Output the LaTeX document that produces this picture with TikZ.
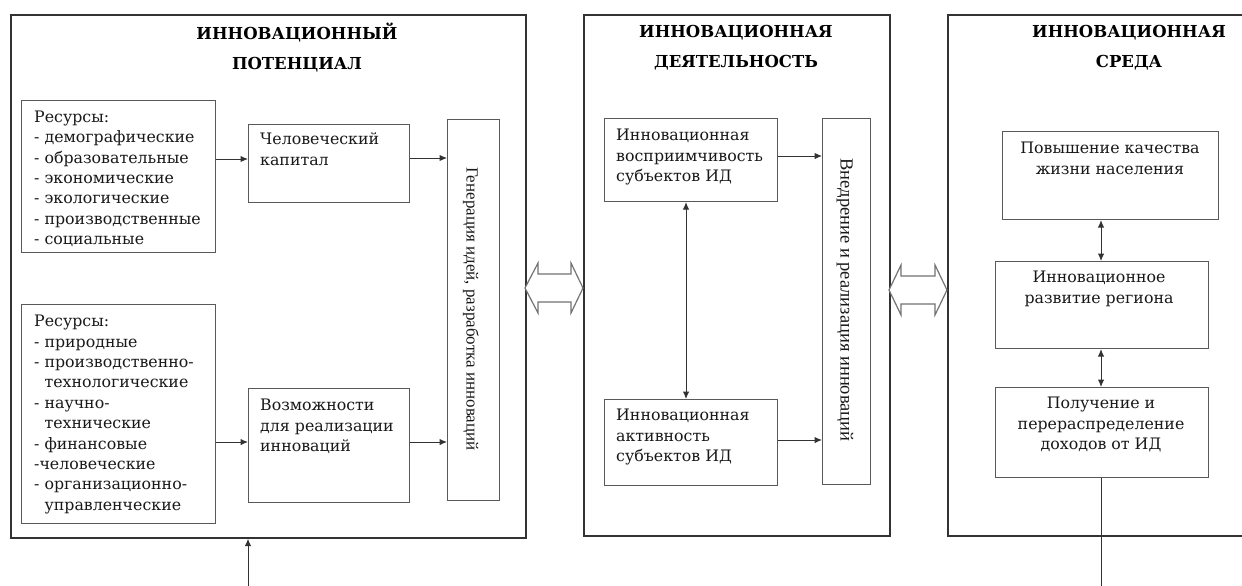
\documentclass[tikz,border=0pt]{standalone}
\usepackage{fontspec}
\setmainfont{DejaVu Serif}
\newfontfamily\vfont{Liberation Serif}
\usetikzlibrary{arrows.meta}
\begin{document}
\begin{tikzpicture}[x=1pt,y=-1pt,
  outer/.style={draw=black!80, line width=1.7pt, rectangle, inner sep=0pt, anchor=north west},
  boxn/.style={draw=black!65, line width=1.1pt, rectangle, inner sep=0pt, anchor=north west},
  txt/.style={font=\fontsize{15.8}{20.4}\selectfont, align=left, inner sep=0pt, anchor=north west, text=black!90},
  ctxt/.style={font=\fontsize{15.8}{20.4}\selectfont, align=center, inner sep=0pt, anchor=north, text=black!90},
  ttl/.style={font=\fontsize{16.5}{29.5}\selectfont\bfseries, align=center, inner sep=0pt},
  vtxt/.style={font=\vfont\fontsize{17}{18}\selectfont, rotate=-90, inner sep=0pt, text=black!90},
  arr/.style={draw=black!80, line width=1pt, -{Latex[length=7.5pt,width=6.5pt]}},
  darr/.style={draw=black!80, line width=1pt, {Latex[length=7.5pt,width=6.5pt]}-{Latex[length=7.5pt,width=6.5pt]}},
  blockarr/.style={draw=black!55, line width=1.2pt, fill=white, line join=miter}
]
\path[use as bounding box, fill=white] (0,0) rectangle (1242,586);
\clip (0,0) rectangle (1242,586);

% outer frames
\node[outer, minimum width=515pt, minimum height=523pt] (lp) at (10,14) {};
\node[outer, minimum width=306pt, minimum height=521pt] (mid) at (583,14) {};
\node[outer, minimum width=320pt, minimum height=521pt] (env) at (947,14) {};

% titles
\node[ttl] (t1) at (297,47.5) {ИННОВАЦИОННЫЙ\\ПОТЕНЦИАЛ};
\node[ttl] (t2) at (736,47.5) {ИННОВАЦИОННАЯ\\ДЕЯТЕЛЬНОСТЬ};
\node[ttl] (t3) at (1129,47.5) {ИННОВАЦИОННАЯ\\СРЕДА};

% left column boxes
\node[boxn, minimum width=194pt, minimum height=152pt] (r1) at (21,100) {};
\node[boxn, minimum width=194pt, minimum height=219pt] (r2) at (21,304) {};
\node[boxn, minimum width=161pt, minimum height=78pt] (hc) at (248,124) {};
\node[boxn, minimum width=161pt, minimum height=114pt] (op) at (248,388) {};
\node[boxn, minimum width=52pt, minimum height=381pt] (gen) at (447,119) {};

\node[txt] (r1t) at (34,110.5) {Ресурсы:\\- демографические\\- образовательные\\- экономические\\- экологические\\- производственные\\- социальные};
\node[txt] (r2t) at (34,315) {Ресурсы:\\- природные\\- производственно-\\\phantom{- }технологические\\- научно-\\\phantom{- }технические\\- финансовые\\-человеческие\\- организационно-\\\phantom{- }управленческие};
\node[txt] (hct) at (260,133) {Человеческий\\капитал};
\node[txt] (opt) at (260,399) {Возможности\\для реализации\\инноваций};
\node[vtxt] (gent) at (471,309) {Генерация идей, разработка инноваций};

% middle column boxes
\node[boxn, minimum width=173pt, minimum height=83pt] (rec) at (604,118) {};
\node[boxn, minimum width=173pt, minimum height=86pt] (act) at (604,399) {};
\node[boxn, minimum width=48pt, minimum height=366pt] (imp) at (822,118) {};
\node[txt] (rect) at (616,129) {Инновационная\\восприимчивость\\субъектов ИД};
\node[txt] (actt) at (616,409) {Инновационная\\активность\\субъектов ИД};
\node[vtxt, font=\vfont\fontsize{18.5}{19}\selectfont] (impt) at (845,300) {Внедрение и реализация инноваций};

% right column boxes
\node[boxn, minimum width=216pt, minimum height=88pt] (q) at (1002,131) {};
\node[boxn, minimum width=213pt, minimum height=87pt] (dev) at (995,261) {};
\node[boxn, minimum width=213pt, minimum height=90pt] (inc) at (995,387) {};
\node[ctxt] (qt) at (1110,142) {Повышение качества\\жизни населения};
\node[ctxt] (devt) at (1099,271) {Инновационное\\развитие региона};
\node[ctxt] (inct) at (1101,397) {Получение и\\перераспределение\\доходов от ИД};

% connectors
\draw[arr] (r1.east |- 0,159) -- (hc.west |- 0,159);
\draw[arr] (hc.east |- 0,158) -- (gen.west |- 0,158);
\draw[arr] (r2.east |- 0,442) -- (op.west |- 0,442);
\draw[arr] (op.east |- 0,442) -- (gen.west |- 0,442);
\draw[darr] (rec.south -| 686,0) -- (act.north -| 686,0);
\draw[arr] (rec.east |- 0,156) -- (imp.west |- 0,156);
\draw[arr] (act.east |- 0,440) -- (imp.west |- 0,440);
\draw[darr] (q.south -| 1101,0) -- (dev.north -| 1101,0);
\draw[darr] (dev.south -| 1101,0) -- (inc.north -| 1101,0);
\coordinate (bout) at (1101,590);
\draw[draw=black!80, line width=1pt] (inc.south -| 1101,0) -- (bout);
\coordinate (bin) at (248,590);
\draw[arr] (bin) -- (lp.south -| 248,0);

% block double arrows
\draw[blockarr] (525,288) -- (538,263) -- (538,274) -- (571,274) -- (571,263) -- (583,288)
  -- (571,313) -- (571,302) -- (538,302) -- (538,313) -- cycle;
\draw[blockarr] (889,290) -- (901,265) -- (901,276) -- (935,276) -- (935,265) -- (947,290)
  -- (935,315) -- (935,304) -- (901,304) -- (901,315) -- cycle;
\end{tikzpicture}
\end{document}
